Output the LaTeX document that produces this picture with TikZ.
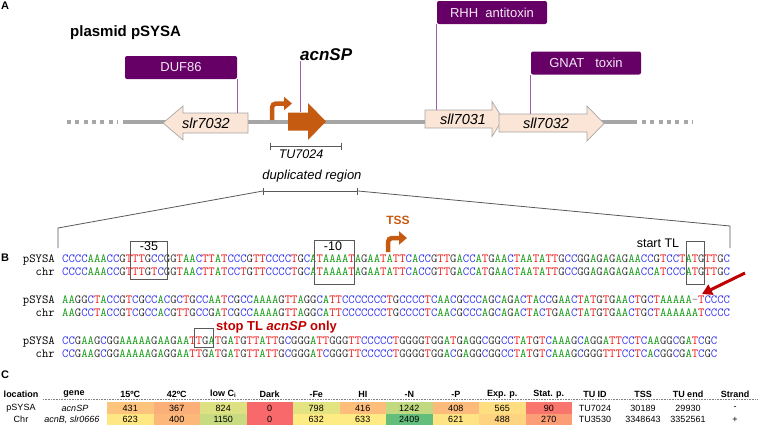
\documentclass[tikz,border=0pt]{standalone}
\usepackage{fontspec}
\setmainfont{Liberation Sans}
\usetikzlibrary{arrows.meta}

\definecolor{genefill}{HTML}{FBE5D6}
\definecolor{genedraw}{HTML}{A6A6A6}
\definecolor{backbone}{HTML}{A6A6A6}
\definecolor{acnorange}{HTML}{C55A11}
\definecolor{domfill}{HTML}{660066}
\definecolor{domtext}{HTML}{F4E8F4}
\definecolor{domline}{HTML}{A65DAF}
\definecolor{stopred}{HTML}{C00000}
\definecolor{boxgray}{HTML}{595959}
\definecolor{ntA}{HTML}{109A10}
\definecolor{ntC}{HTML}{2E2EF0}
\definecolor{ntG}{HTML}{303030}
\definecolor{ntT}{HTML}{F01414}
\definecolor{hred}{HTML}{F8696B}
\definecolor{hyel}{HTML}{FFEB84}
\definecolor{hgrn}{HTML}{63BE7B}

% one colour per base
\newcommand\ntcol[1]{%
  \if#1A\textcolor{ntA}{A}\else
  \if#1C\textcolor{ntC}{C}\else
  \if#1G\textcolor{ntG}{G}\else
  \if#1T\textcolor{ntT}{T}\else
  \textcolor{gray}{#1}\fi\fi\fi\fi}
\def\seqrun#1{\ifx#1\relax\else\ntcol{#1}\expandafter\seqrun\fi}
\newcommand\dna[1]{\seqrun#1\relax}

\tikzset{
  panel/.style={font=\bfseries\fontsize{11}{11}\selectfont, inner sep=0pt},
  backbone/.style={draw=backbone, line width=3.2pt},
  gene/.style={draw=genedraw, fill=genefill, line width=0.7pt},
  genelabel/.style={font=\itshape\fontsize{14.5}{15}\selectfont, inner sep=0pt},
  dombox/.style={fill=domfill, rounded corners=2pt, text=domtext,
    font=\fontsize{13}{13}\selectfont, inner sep=0pt, minimum height=23pt},
  domlink/.style={draw=domline, line width=0.8pt},
  promoter/.style={draw=acnorange, line width=4.5pt, rounded corners=4pt,
    -{Triangle[length=8pt,width=13pt]}},
  bracket/.style={draw=boxgray, line width=0.8pt, {Bar[width=7pt]}-{Bar[width=7pt]}},
  fan/.style={draw=boxgray, line width=0.8pt},
  seqrow/.style={font=\ttfamily\fontsize{12.35}{12}\selectfont, inner sep=0pt,
    anchor=west, text height=7pt, text depth=0pt},
  seqname/.style={font=\ttfamily\fontsize{12.35}{12}\selectfont, inner sep=0pt,
    anchor=east, text height=7pt, text depth=0pt},
  seqbox/.style={draw=boxgray, line width=0.7pt, inner sep=0pt},
  boxlabel/.style={inner sep=0pt, font=\fontsize{12.5}{12.5}\selectfont},
  redpoint/.style={draw=stopred, line width=3pt, -{Triangle[length=10pt,width=11pt]}},
  colhead/.style={font=\bfseries\fontsize{9}{9}\selectfont, inner sep=0pt},
  tabcell/.style={font=\fontsize{9}{9}\selectfont, inner sep=0pt},
  heatcell/.style={tabcell, minimum width=46.5pt, minimum height=11.5pt},
}

\begin{document}
\begin{tikzpicture}[x=1pt,y=-1pt]
  \useasboundingbox (0,0) rectangle (758,426);

  % panel A
  \node[panel] (pa) at (5,6) {A};
  \node[anchor=west, inner sep=0pt, font=\bfseries\fontsize{15}{15}\selectfont] (plas) at (70,33) {plasmid pSYSA};

  \coordinate (bbL) at (123,122);
  \coordinate (bbR) at (637,122);
  \coordinate (dotL1) at (67,122);
  \coordinate (dotL2) at (117,122);
  \coordinate (dotR1) at (642,122);
  \coordinate (dotR2) at (692,122);
  \path[backbone] (bbL) edge (bbR);
  \path[backbone, dash pattern=on 4pt off 4.3pt] (dotL1) edge (dotL2);
  \path[backbone, dash pattern=on 4pt off 4.3pt] (dotR1) edge (dotR2);

  \draw[gene] (248,113) -- (183,113) -- (183,106) -- (163,123) -- (183,140) -- (183,133) -- (248,133) -- cycle;
  \draw[gene] (425,110) -- (492,110) -- (492,101.5) -- (503,119) -- (492,136.5) -- (492,128) -- (425,128) -- cycle;
  \draw[gene] (499,114) -- (587,114) -- (587,106) -- (604,123.5) -- (587,141) -- (587,132) -- (499,132) -- cycle;
  \fill[acnorange] (288,112.5) -- (308,112.5) -- (308,103) -- (326,121.5) -- (308,140) -- (308,130.5) -- (288,130.5) -- cycle;

  \begin{scope}[every node/.style=genelabel]
    \node[minimum height=20pt] (slr) at (206,123) {slr7032};
    \node[minimum height=18pt] (sllA) at (463,119) {sll7031};
    \node[minimum height=18pt] (sllB) at (546,123) {sll7032};
    \node[minimum width=38pt, minimum height=18pt] (acn) at (307,121.5) {};
  \end{scope}
  \node[anchor=west, inner sep=0pt, font=\bfseries\itshape\fontsize{17}{17}\selectfont] (acnlbl) at (300,55) {acnSP};

  \begin{scope}[every node/.style=dombox]
    \node[minimum width=112pt] (duf) at (181,67.5) {DUF86};
    \node[minimum width=110pt] (rhh) at (492,12.5) {RHH\ \ antitoxin};
    \node[minimum width=110pt] (gnat) at (586,63) {GNAT\ \ \ toxin};
  \end{scope}
  \path[domlink] (duf.south east) edge (duf.south east |- slr.north);
  \path[domlink] (rhh.south west) edge (rhh.south west |- sllA.north);
  \path[domlink] (gnat.south west) edge (gnat.south west |- sllB.north);
  \path[domlink] (acnlbl.south west) edge (acnlbl.south west |- acn.north);

  \coordinate (prB) at (272,120);
  \coordinate (prT) at (292,103.5);
  \draw[promoter] (prB) |- (prT);

  \coordinate (tuL) at (270,146);
  \coordinate (tuR) at (342,146);
  \draw[bracket] (tuL) -- (tuR);
  \node[font=\itshape\fontsize{12.5}{12.5}\selectfont, inner sep=0pt] (tu) at (301,154.5) {TU7024};

  \node[font=\itshape\fontsize{13}{13}\selectfont, inner sep=0pt] (dup) at (312,176) {duplicated region};
  \coordinate (dupL) at (263,191);
  \coordinate (dupR) at (358,191);
  \coordinate (fanL) at (58,228);
  \coordinate (fanR) at (730,226);
  \coordinate (seqL) at (58,248);
  \coordinate (seqR) at (730,248);
  \draw[bracket] (dupL) -- (dupR);
  \draw[fan] (dupL) -- (fanL) -- (seqL);
  \draw[fan] (dupR) -- (fanR) -- (seqR);

  % panel B
  \node[panel] (pb) at (5,258) {B};
  \begin{scope}[every node/.style=seqname]
    \node (n1p) at (55,259) {pSYSA};
    \node (n1c) at (55,272) {chr};
    \node (n2p) at (55,300) {pSYSA};
    \node (n2c) at (55,313) {chr};
    \node (n3p) at (55,341) {pSYSA};
    \node (n3c) at (55,354) {chr};
  \end{scope}
  \begin{scope}[every node/.style=seqrow]
    \node (s1p) at (62,259) {\dna{CCCCAAACCGTTTGCCGGTAACTTATCCCGTTCCCCTGCATAAAATAGAATATTCACCGTTGACCATGAACTAATATTGCCGGAGAGAGAACCGTCCTATGTTGC}};
    \node (s1c) at (62,272) {\dna{CCCCAAACCGTTTGTCGGTAACTTATCCTGTTCCCCTGCATAAAATAGAATATTCACCGTTGACCATGAACTAATATTGCCGGAGAGAGAACCATCCCATGTTGC}};
    \node (s2p) at (62,300) {\dna{AAGGCTACCGTCGCCACGCTGCCAATCGCCAAAAGTTAGGCATTCCCCCCCTGCCCCTCAACGCCCAGCAGACTACCGAACTATGTGAACTGCTAAAAA-TCCCC}};
    \node (s2c) at (62,313) {\dna{AAGCCTACCGTCGCCACGTTGCCGATCGCCAAAAGTTAGGCATTCCCCCCCTGCCCCTCAACGCCCAGCAGACTACTGAACTATGTGAACTGCTAAAAAATCCCC}};
    \node (s3p) at (62,341) {\dna{CCGAAGCGGAAAAAGAAGAATTGATGATGTTATTGCGGGATTGGGTTCCCCCTGGGGTGGATGAGGCGGCCTATGTCAAAGCAGGATTCCTCAAGGCGATCGC}};
    \node (s3c) at (62,354) {\dna{CCGAAGCGGAAAAAGAGGAATTGATGATGTTATTGCGGGATCGGGTTCCCCCTGGGGTGGACGAGGCGGCCTATGTCAAAGCGGGTTTCCTCACGGCGATCGC}};
  \end{scope}

  \node[seqbox, minimum width=37pt, minimum height=38pt] (m35) at (148.5,260) {};
  \node[seqbox, minimum width=40pt, minimum height=44pt] (m10) at (334,262) {};
  \node[seqbox, minimum width=18pt, minimum height=43pt] (stlbox) at (695,262.5) {};
  \node[seqbox, minimum width=19pt, minimum height=19pt] (stpbox) at (203.5,337.5) {};
  \node[boxlabel] (m35t) at (149,246.5) {-35};
  \node[boxlabel] (m10t) at (333,246.5) {-10};
  \node[inner sep=0pt, font=\fontsize{12.5}{12.5}\selectfont] (stl) at (658,243) {start TL};
  \node[anchor=west, inner sep=0pt, text=stopred, font=\bfseries\fontsize{13}{13}\selectfont] (stop) at (216,327) {stop TL \textit{acnSP} only};

  \coordinate (tssB) at (388,252);
  \coordinate (tssT) at (407,238);
  \draw[promoter] (tssB) |- (tssT);
  \node[inner sep=0pt, text=acnorange, font=\bfseries\fontsize{12}{12}\selectfont] (tss) at (398,220) {TSS};

  \coordinate (rtail) at (745,273);
  \coordinate (rtip) at (702,294);
  \draw[redpoint] (rtail) -- (rtip);

  % panel C
  \node[panel] (pc) at (5,375) {C};
  \begin{scope}[every node/.style=colhead]
    \node (hloc) at (21,394) {location};
    \node (hgene) at (74,394) {gene};
    \node (h15) at (130.25,394) {15ºC};
    \node (h42) at (176.75,394) {42ºC};
    \node (hci) at (223.25,394) {low C\textsubscript{i}};
    \node (hdark) at (269.75,394) {Dark};
    \node (hfe) at (316.25,394) {-Fe};
    \node (hhi) at (362.75,394) {HI};
    \node (hn) at (409.25,394) {-N};
    \node (hp) at (455.75,394) {-P};
    \node (hexp) at (502.25,394) {Exp. p.};
    \node (hstat) at (548.75,394) {Stat. p.};
    \node (htu) at (595,394) {TU ID};
    \node (htss) at (643,394) {TSS};
    \node (hend) at (688,394) {TU end};
    \node (hstr) at (735,394) {Strand};
  \end{scope}
  \coordinate (ruleL) at (43,399.5);
  \coordinate (ruleR) at (758,399.5);
  \draw[densely dotted, gray, line width=0.6pt] (ruleL) -- (ruleR);

  \begin{scope}[every node/.style=heatcell]
    \node[fill=hred!30!hyel] (a15) at (130.25,408) {431};
    \node[fill=hred!45!hyel] (a42) at (176.75,408) {367};
    \node[fill=hgrn!22!hyel] (aci) at (223.25,408) {824};
    \node[fill=hred] (adark) at (269.75,408) {0};
    \node[fill=hgrn!18!hyel] (afe) at (316.25,408) {798};
    \node[fill=hred!35!hyel] (ahi) at (362.75,408) {416};
    \node[fill=hgrn!40!hyel] (an) at (409.25,408) {1242};
    \node[fill=hred!37!hyel] (ap) at (455.75,408) {408};
    \node[fill=hred!10!hyel] (aexp) at (502.25,408) {565};
    \node[fill=hred!90!hyel] (astat) at (548.75,408) {90};
    \node[fill=hred!3!hyel] (b15) at (130.25,419.5) {623};
    \node[fill=hred!40!hyel] (b42) at (176.75,419.5) {400};
    \node[fill=hgrn!35!hyel] (bci) at (223.25,419.5) {1150};
    \node[fill=hred] (bdark) at (269.75,419.5) {0};
    \node[fill=hyel] (bfe) at (316.25,419.5) {632};
    \node[fill=hyel] (bhi) at (362.75,419.5) {633};
    \node[fill=hgrn] (bn) at (409.25,419.5) {2409};
    \node[fill=hred!5!hyel] (bp) at (455.75,419.5) {621};
    \node[fill=hred!18!hyel] (bexp) at (502.25,419.5) {488};
    \node[fill=hred!60!hyel] (bstat) at (548.75,419.5) {270};
  \end{scope}
  \begin{scope}[every node/.style=tabcell]
    \node (aloc) at (21,408) {pSYSA};
    \node[font=\itshape\fontsize{9}{9}\selectfont] (agene) at (75,408) {acnSP};
    \node (atu) at (595,408) {TU7024};
    \node (atss) at (643,408) {30189};
    \node (aend) at (688,408) {29930};
    \node (astr) at (735,408) {-};
    \node (bloc) at (21,419.5) {Chr};
    \node[font=\itshape\fontsize{9}{9}\selectfont] (bgene) at (72,419.5) {acnB, slr0666};
    \node (btu) at (595,419.5) {TU3530};
    \node (btss) at (643,419.5) {3348643};
    \node (bend) at (688,419.5) {3352561};
    \node (bstr) at (735,419.5) {+};
  \end{scope}
\end{tikzpicture}
\end{document}
